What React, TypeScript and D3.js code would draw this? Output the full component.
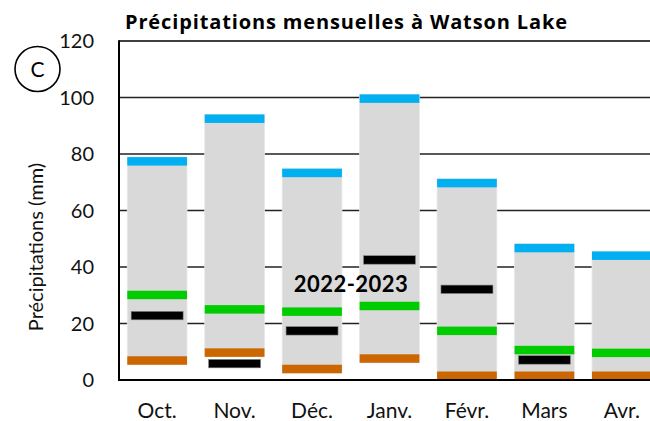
import React from "react";
import * as d3 from "d3";

const months = ["Oct.", "Nov.", "Déc.", "Janv.", "Févr.", "Mars", "Avr."];
const minVals = [5.4, 8.2, 2.4, 6.1, 0, 0, 0];
const maxVals = [78.9, 94.0, 74.8, 101.1, 71.2, 48.2, 45.5];
const medianVals = [30.1, 25.0, 24.2, 26.2, 17.4, 10.6, 9.6];
const currentVals: (number | null)[] = [22.8, 5.8, 17.4, 42.5, 32.1, 7.1, null];
const yTicks = [0, 20, 40, 60, 80, 100, 120];

const W = 650;
const H = 421;
const FONT = "Lato, 'Open Sans', sans-serif";

export default function App() {
  const left = 119;
  const top = 41;
  const bottom = 380;
  const right = 660;
  const y = d3.scaleLinear().domain([0, 120]).range([bottom, top]);
  const x = d3
    .scaleBand<string>()
    .domain(months)
    .range([left, right])
    .paddingInner(0.229)
    .paddingOuter(0.107);
  const bw = x.bandwidth();
  const mk = 3; // marker thickness in mm
  const blackW = 52;

  return (
    <svg
      width={W}
      height={H}
      style={{ position: "fixed", left: 0, top: 0, background: "#fff" }}
      fontFamily={FONT}
    >
      {yTicks
        .filter((t) => t > 0 && t < 120)
        .map((t) => (
          <line key={t} x1={left} x2={W} y1={y(t)} y2={y(t)} stroke="#222" strokeWidth={1.4} />
        ))}
      {months.map((m, i) => {
        const x0 = x(m)!;
        const cx = x0 + bw / 2;
        const cur = currentVals[i];
        return (
          <g key={m}>
            <rect x={x0} y={y(maxVals[i])} width={bw} height={y(minVals[i]) - y(maxVals[i])} fill="#d9d9d9" stroke="#e8e8e8" strokeWidth={0.8} />
            <rect x={x0} y={y(maxVals[i])} width={bw} height={y(maxVals[i] - mk) - y(maxVals[i])} fill="#00b0f0" />
            <rect x={x0} y={y(minVals[i] + mk)} width={bw} height={y(minVals[i]) - y(minVals[i] + mk)} fill="#cc6600" />
            <rect x={x0} y={y(medianVals[i] + mk / 2)} width={bw} height={y(medianVals[i] - mk / 2) - y(medianVals[i] + mk / 2)} fill="#00cc00" />
            {cur !== null && (
              <rect x={cx - blackW / 2} y={y(cur + mk / 2)} width={blackW} height={y(cur - mk / 2) - y(cur + mk / 2)} fill="#000" stroke="#888" strokeWidth={0.6} />
            )}
          </g>
        );
      })}
      <line x1={left} x2={W} y1={top} y2={top} stroke="#000" strokeWidth={1.6} />
      <line x1={left} x2={W} y1={bottom} y2={bottom} stroke="#000" strokeWidth={2} />
      <line x1={left} x2={left} y1={top - 0.8} y2={bottom + 1} stroke="#000" strokeWidth={2} />
      {yTicks.map((t) => (
        <text key={t} x={94} y={y(t)} dy="0.36em" textAnchor="end" fontSize={20} fill="#111">
          {t}
        </text>
      ))}
      {months.map((m) => (
        <text key={m} x={x(m)! + bw / 2} y={418} textAnchor="middle" fontSize={21} fill="#111">
          {m}
        </text>
      ))}
      <text transform="translate(43,247) rotate(-90)" textAnchor="middle" fontSize={20} fill="#111">
        Précipitations (mm)
      </text>
      <text x={125} y={29} fontSize={20} fontWeight="bold" fill="#000" fontFamily="'Open Sans', sans-serif" textLength={442} lengthAdjust="spacing">
        Précipitations mensuelles à Watson Lake
      </text>
      <text x={(x("Déc.")! + bw + x("Janv.")!) / 2} y={292} textAnchor="middle" fontSize={22} fontWeight="bold" fill="#000" textLength={114} lengthAdjust="spacing">
        2022-2023
      </text>
      <circle cx={37.5} cy={69} r={22.5} fill="none" stroke="#000" strokeWidth={1.6} />
      <text x={37.5} y={69} dy="0.36em" textAnchor="middle" fontSize={21} fill="#000">
        C
      </text>
    </svg>
  );
}
